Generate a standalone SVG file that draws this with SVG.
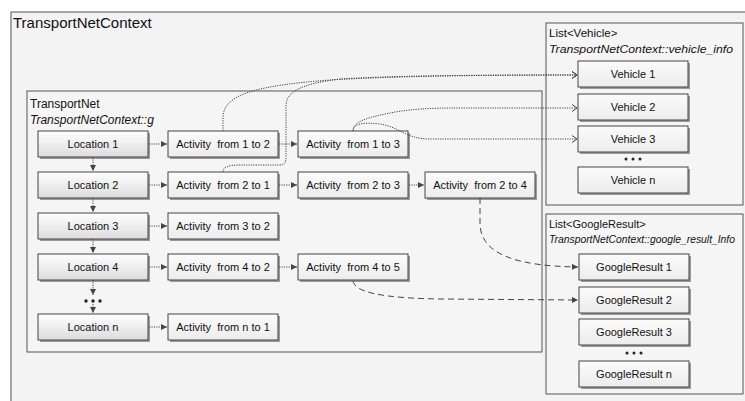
<svg xmlns="http://www.w3.org/2000/svg" width="745" height="401" viewBox="0 0 745 401">
<defs>
<linearGradient id="gLoc" x1="0" y1="0" x2="0" y2="1">
<stop offset="0" stop-color="#ffffff"/><stop offset="1" stop-color="#dcdcdc"/>
</linearGradient>
<linearGradient id="gAct" x1="0" y1="0" x2="0" y2="1">
<stop offset="0" stop-color="#fbfbfb"/><stop offset="1" stop-color="#ececec"/>
</linearGradient>
<marker id="tri" markerUnits="userSpaceOnUse" markerWidth="7" markerHeight="7" refX="6" refY="3" orient="auto">
<path d="M0,0 L6,3 L0,6 z" fill="#444"/>
</marker>
<marker id="chev" markerUnits="userSpaceOnUse" markerWidth="8" markerHeight="9" refX="6" refY="4" orient="auto">
<path d="M1,0.5 L6,4 L1,7.5" fill="none" stroke="#444" stroke-width="1"/>
</marker>
</defs>
<style>
text{font-family:"Liberation Sans","Noto Sans",Arial,sans-serif;fill:#111}
.frame{fill:#f3f3f3;stroke:#555;stroke-width:1}
.sub{fill:#f5f5f5;stroke:#555;stroke-width:1}
.loc{fill:url(#gLoc);stroke:#444;stroke-width:1}
.act{fill:url(#gAct);stroke:#444;stroke-width:1}
.shadow{fill:#9a9a9a}
.lbl{font-size:11px;text-anchor:middle}
.hdr{font-size:12px}
.it{font-style:italic}
.dot{fill:none;stroke:#444;stroke-width:1;stroke-dasharray:1.2 1.2}
.dash{fill:none;stroke:#444;stroke-width:1;stroke-dasharray:6 4}
.bul{fill:#222}
</style>

<g id="context">
<rect class="frame" x="11" y="12" width="740" height="400"/>
<text x="13" y="28" style="font-size:15px">TransportNetContext</text>
</g>

<g id="transportnet">
<rect class="sub" x="27" y="91" width="515" height="261"/>
<text class="hdr" x="30" y="108">TransportNet</text>
<text class="hdr it" x="30" y="124">TransportNetContext::g</text>
</g>

<g id="vehiclelist">
<rect class="sub" x="546" y="23" width="197" height="182"/>
<text class="hdr" x="549" y="37" style="font-size:11.5px">List&lt;Vehicle&gt;</text>
<text class="hdr it" x="549" y="53" style="font-size:11.5px" textLength="184" lengthAdjust="spacingAndGlyphs">TransportNetContext::vehicle_info</text>
</g>

<g id="googlelist">
<rect class="sub" x="546" y="214" width="197" height="180"/>
<text x="549" y="228" style="font-size:11px">List&lt;GoogleResult&gt;</text>
<text class="it" x="549" y="243" style="font-size:10.5px" textLength="186" lengthAdjust="spacingAndGlyphs">TransportNetContext::google_result_Info</text>
</g>

<!-- Locations -->
<g id="location1"><rect class="shadow" x="40" y="133" width="110" height="26"/><rect class="loc" x="38" y="131" width="110" height="26"/><text class="lbl" x="93" y="148">Location 1</text></g>
<g id="location2"><rect class="shadow" x="40" y="174" width="110" height="26"/><rect class="loc" x="38" y="172" width="110" height="26"/><text class="lbl" x="93" y="189">Location 2</text></g>
<g id="location3"><rect class="shadow" x="40" y="215" width="110" height="26"/><rect class="loc" x="38" y="213" width="110" height="26"/><text class="lbl" x="93" y="230">Location 3</text></g>
<g id="location4"><rect class="shadow" x="40" y="256" width="110" height="26"/><rect class="loc" x="38" y="254" width="110" height="26"/><text class="lbl" x="93" y="271">Location 4</text></g>
<g id="locationdots"><circle class="bul" cx="86" cy="301" r="1.7"/><circle class="bul" cx="93" cy="301" r="1.7"/><circle class="bul" cx="100" cy="301" r="1.7"/></g>
<g id="locationn"><rect class="shadow" x="40" y="316" width="110" height="26"/><rect class="loc" x="38" y="314" width="110" height="26"/><text class="lbl" x="93" y="331">Location n</text></g>

<!-- Activities -->
<g id="act12"><rect class="shadow" x="170" y="133" width="110" height="26"/><rect class="act" x="168" y="131" width="110" height="26"/><text class="lbl" x="223" y="148" xml:space="preserve">Activity  from 1 to 2</text></g>
<g id="act13"><rect class="shadow" x="300" y="133" width="110" height="26"/><rect class="act" x="298" y="131" width="110" height="26"/><text class="lbl" x="353" y="148" xml:space="preserve">Activity  from 1 to 3</text></g>
<g id="act21"><rect class="shadow" x="170" y="174" width="110" height="26"/><rect class="act" x="168" y="172" width="110" height="26"/><text class="lbl" x="223" y="189" xml:space="preserve">Activity  from 2 to 1</text></g>
<g id="act23"><rect class="shadow" x="300" y="174" width="110" height="26"/><rect class="act" x="298" y="172" width="110" height="26"/><text class="lbl" x="353" y="189" xml:space="preserve">Activity  from 2 to 3</text></g>
<g id="act24"><rect class="shadow" x="427" y="174" width="110" height="26"/><rect class="act" x="425" y="172" width="110" height="26"/><text class="lbl" x="480" y="189" xml:space="preserve">Activity  from 2 to 4</text></g>
<g id="act32"><rect class="shadow" x="170" y="215" width="110" height="26"/><rect class="act" x="168" y="213" width="110" height="26"/><text class="lbl" x="223" y="230" xml:space="preserve">Activity  from 3 to 2</text></g>
<g id="act42"><rect class="shadow" x="170" y="256" width="110" height="26"/><rect class="act" x="168" y="254" width="110" height="26"/><text class="lbl" x="223" y="271" xml:space="preserve">Activity  from 4 to 2</text></g>
<g id="act45"><rect class="shadow" x="300" y="256" width="110" height="26"/><rect class="act" x="298" y="254" width="110" height="26"/><text class="lbl" x="353" y="271" xml:space="preserve">Activity  from 4 to 5</text></g>
<g id="actn1"><rect class="shadow" x="170" y="316" width="110" height="26"/><rect class="act" x="168" y="314" width="110" height="26"/><text class="lbl" x="223" y="331" xml:space="preserve">Activity  from n to 1</text></g>

<!-- Vehicles -->
<g id="vehicle1"><rect class="shadow" x="580" y="63" width="110" height="26"/><rect class="act" x="578" y="61" width="110" height="26"/><text class="lbl" x="633" y="78">Vehicle 1</text></g>
<g id="vehicle2"><rect class="shadow" x="580" y="96" width="110" height="26"/><rect class="act" x="578" y="94" width="110" height="26"/><text class="lbl" x="633" y="111">Vehicle 2</text></g>
<g id="vehicle3"><rect class="shadow" x="580" y="128" width="110" height="26"/><rect class="act" x="578" y="126" width="110" height="26"/><text class="lbl" x="633" y="143">Vehicle 3</text></g>
<g id="vehicledots"><circle class="bul" cx="626" cy="159" r="1.5"/><circle class="bul" cx="633" cy="159" r="1.5"/><circle class="bul" cx="640" cy="159" r="1.5"/></g>
<g id="vehiclen"><rect class="shadow" x="580" y="169" width="110" height="26"/><rect class="act" x="578" y="167" width="110" height="26"/><text class="lbl" x="633" y="184">Vehicle n</text></g>

<!-- Google results -->
<g id="google1"><rect class="shadow" x="581" y="256" width="110" height="26"/><rect class="act" x="579" y="254" width="110" height="26"/><text class="lbl" x="634" y="271">GoogleResult 1</text></g>
<g id="google2"><rect class="shadow" x="581" y="289" width="110" height="26"/><rect class="act" x="579" y="287" width="110" height="26"/><text class="lbl" x="634" y="304">GoogleResult 2</text></g>
<g id="google3"><rect class="shadow" x="581" y="321" width="110" height="26"/><rect class="act" x="579" y="319" width="110" height="26"/><text class="lbl" x="634" y="336">GoogleResult 3</text></g>
<g id="googledots"><circle class="bul" cx="627" cy="353" r="1.5"/><circle class="bul" cx="634" cy="353" r="1.5"/><circle class="bul" cx="641" cy="353" r="1.5"/></g>
<g id="googlen"><rect class="shadow" x="581" y="363" width="110" height="26"/><rect class="act" x="579" y="361" width="110" height="26"/><text class="lbl" x="634" y="378">GoogleResult n</text></g>

<g id="connectors">
<!-- vertical -->
<path class="dot" d="M93,157 L93,171" marker-end="url(#tri)"/>
<path class="dot" d="M93,198 L93,212" marker-end="url(#tri)"/>
<path class="dot" d="M93,239 L93,253" marker-end="url(#tri)"/>
<path class="dot" d="M93,280 L93,295" marker-end="url(#tri)"/>
<path class="dot" d="M93,304 L93,313" marker-end="url(#tri)"/>
<!-- horizontal -->
<path class="dot" d="M149,144 L167,144" marker-end="url(#tri)"/>
<path class="dot" d="M279,144 L297,144" marker-end="url(#tri)"/>
<path class="dot" d="M149,185 L167,185" marker-end="url(#tri)"/>
<path class="dot" d="M279,185 L297,185" marker-end="url(#tri)"/>
<path class="dot" d="M409,185 L424,185" marker-end="url(#tri)"/>
<path class="dot" d="M149,226 L167,226" marker-end="url(#tri)"/>
<path class="dot" d="M149,267 L167,267" marker-end="url(#tri)"/>
<path class="dot" d="M279,267 L297,267" marker-end="url(#tri)"/>
<path class="dot" d="M149,327 L167,327" marker-end="url(#tri)"/>
<!-- to vehicles -->
<path class="dot" d="M223,131 L223,118 C223,96 250,86 330,80 C380,77 450,75 577,75" marker-end="url(#chev)"/>
<path class="dot" d="M223,172 C223,167 228,165 240,165 L280,165 C285,165 286,162 286,156 L286,106 C286,92 300,84 340,79 C390,76 450,75 577,75" marker-end="url(#chev)"/>
<path class="dot" d="M353,131 C353,122 365,118 390,113 C410,109 430,108 460,108 L577,108" marker-end="url(#chev)"/>
<path class="dot" d="M353,131 C353,124 362,122 380,124 C400,127 405,139 430,139 L577,139" marker-end="url(#chev)"/>
<!-- to google results -->
<path class="dash" d="M480,198 L480,225 C482,256 520,266 578,267" marker-end="url(#tri)"/>
<path class="dash" d="M353,281 C355,292 380,298 440,299 L578,300" marker-end="url(#tri)"/>
</g>
</svg>
